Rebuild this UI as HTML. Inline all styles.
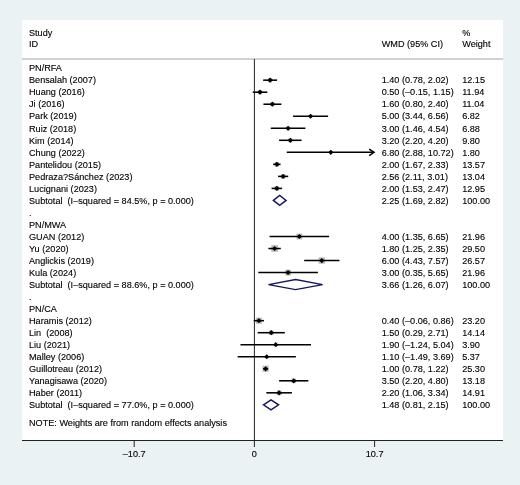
<!DOCTYPE html>
<html><head><meta charset="utf-8"><style>
html,body{margin:0;padding:0;background:#eaf2f3;}
body{width:520px;height:485px;overflow:hidden;}
svg{display:block;will-change:transform;filter:blur(0.3px);}
text{font-family:"Liberation Sans",sans-serif;font-size:9.15px;fill:#000;white-space:pre;stroke:#000;stroke-width:0.12px;}
</style></head><body>
<svg width="520" height="485" viewBox="0 0 520 485">
<rect x="0" y="0" width="520" height="485" fill="#eaf2f3"/>
<rect x="22" y="20" width="481" height="420.5" fill="#fff"/>
<line x1="22" y1="59" x2="503" y2="59" stroke="#c2c2c2" stroke-width="1.4"/>

<text x="29.0" y="36">Study</text>
<text x="29.0" y="47.1">ID</text>
<text x="381.7" y="47.3">WMD (95% CI)</text>
<text x="462.2" y="35.5">%</text>
<text x="462.2" y="47.4">Weight</text>
<line x1="254.4" y1="59" x2="254.4" y2="440" stroke="#222" stroke-width="1"/>
<text x="29.0" y="71.3">PN/RFA</text>
<text x="29.0" y="83.4">Bensalah (2007)</text>
<rect x="267.95" y="78.00" width="4.36" height="4.36" fill="#bdbdbd"/>
<line x1="263.16" y1="80.17" x2="277.09" y2="80.17" stroke="#000" stroke-width="1.55"/>
<polygon points="267.53,80.17 270.13,77.58 272.73,80.17 270.13,82.77" fill="#000"/>
<text x="381.7" y="83.4">1.40 (0.78, 2.02)</text>
<text x="462.2" y="83.4">12.15</text>
<text x="29.0" y="95.4">Huang (2016)</text>
<rect x="257.86" y="90.04" width="4.32" height="4.32" fill="#bdbdbd"/>
<line x1="252.71" y1="92.20" x2="267.32" y2="92.20" stroke="#000" stroke-width="1.55"/>
<polygon points="257.42,92.20 260.02,89.60 262.62,92.20 260.02,94.80" fill="#000"/>
<text x="381.7" y="95.4">0.50 (–0.15, 1.15)</text>
<text x="462.2" y="95.4">11.94</text>
<text x="29.0" y="107.4">Ji (2016)</text>
<rect x="270.30" y="102.15" width="4.15" height="4.15" fill="#bdbdbd"/>
<line x1="263.39" y1="104.22" x2="281.36" y2="104.22" stroke="#000" stroke-width="1.55"/>
<polygon points="269.77,104.22 272.37,101.62 274.97,104.22 272.37,106.82" fill="#000"/>
<text x="381.7" y="107.4">1.60 (0.80, 2.40)</text>
<text x="462.2" y="107.4">11.04</text>
<text x="29.0" y="119.4">Park (2019)</text>
<rect x="308.94" y="114.62" width="3.26" height="3.26" fill="#bdbdbd"/>
<line x1="293.04" y1="116.25" x2="328.09" y2="116.25" stroke="#000" stroke-width="1.55"/>
<polygon points="307.97,116.25 310.57,113.65 313.17,116.25 310.57,118.85" fill="#000"/>
<text x="381.7" y="119.4">5.00 (3.44, 6.56)</text>
<text x="462.2" y="119.4">6.82</text>
<text x="29.0" y="131.5">Ruiz (2018)</text>
<rect x="286.46" y="126.64" width="3.28" height="3.28" fill="#bdbdbd"/>
<line x1="270.80" y1="128.28" x2="305.40" y2="128.28" stroke="#000" stroke-width="1.55"/>
<polygon points="285.50,128.28 288.10,125.68 290.70,128.28 288.10,130.88" fill="#000"/>
<text x="381.7" y="131.5">3.00 (1.46, 4.54)</text>
<text x="462.2" y="131.5">6.88</text>
<text x="29.0" y="143.5">Kim (2014)</text>
<rect x="288.39" y="138.34" width="3.91" height="3.91" fill="#bdbdbd"/>
<line x1="279.11" y1="140.30" x2="301.58" y2="140.30" stroke="#000" stroke-width="1.55"/>
<polygon points="287.75,140.30 290.35,137.70 292.95,140.30 290.35,142.90" fill="#000"/>
<text x="381.7" y="143.5">3.20 (2.20, 4.20)</text>
<text x="462.2" y="143.5">9.80</text>
<text x="29.0" y="155.5">Chung (2022)</text>
<rect x="329.95" y="151.49" width="1.68" height="1.68" fill="#bdbdbd"/>
<line x1="286.75" y1="152.32" x2="374.00" y2="152.32" stroke="#000" stroke-width="1.55"/>
<polyline points="369.20,149.12 374.00,152.32 369.20,155.52" fill="none" stroke="#000" stroke-width="1.55"/>
<polygon points="328.19,152.32 330.79,149.72 333.39,152.32 330.79,154.92" fill="#000"/>
<text x="381.7" y="155.5">6.80 (2.88, 10.72)</text>
<text x="462.2" y="155.5">1.80</text>
<text x="29.0" y="167.6">Pantelidou (2015)</text>
<rect x="274.56" y="162.05" width="4.60" height="4.60" fill="#bdbdbd"/>
<line x1="273.16" y1="164.35" x2="280.57" y2="164.35" stroke="#000" stroke-width="1.55"/>
<polygon points="274.27,164.35 276.87,161.75 279.47,164.35 276.87,166.95" fill="#000"/>
<text x="381.7" y="167.6">2.00 (1.67, 2.33)</text>
<text x="462.2" y="167.6">13.57</text>
<text x="29.0" y="179.6">Pedraza?Sánchez (2023)</text>
<rect x="280.90" y="174.12" width="4.51" height="4.51" fill="#bdbdbd"/>
<line x1="278.10" y1="176.38" x2="288.21" y2="176.38" stroke="#000" stroke-width="1.55"/>
<polygon points="280.56,176.38 283.16,173.78 285.76,176.38 283.16,178.97" fill="#000"/>
<text x="381.7" y="179.6">2.56 (2.11, 3.01)</text>
<text x="462.2" y="179.6">13.04</text>
<text x="29.0" y="191.6">Lucignani (2023)</text>
<rect x="274.62" y="186.15" width="4.50" height="4.50" fill="#bdbdbd"/>
<line x1="271.59" y1="188.40" x2="282.15" y2="188.40" stroke="#000" stroke-width="1.55"/>
<polygon points="274.27,188.40 276.87,185.80 279.47,188.40 276.87,191.00" fill="#000"/>
<text x="381.7" y="191.6">2.00 (1.53, 2.47)</text>
<text x="462.2" y="191.6">12.95</text>
<text x="29.0" y="203.6">Subtotal  (I–squared = 84.5%, p = 0.000)</text>
<polygon points="273.38,200.43 279.68,195.43 286.08,200.43 279.68,205.43" fill="none" stroke="#161660" stroke-width="1.45"/>
<text x="381.7" y="203.6">2.25 (1.69, 2.82)</text>
<text x="462.2" y="203.6">100.00</text>
<text x="29.0" y="215.7">.</text>
<text x="29.0" y="227.7">PN/MWA</text>
<text x="29.0" y="239.7">GUAN (2012)</text>
<rect x="296.41" y="233.57" width="5.86" height="5.86" fill="#bdbdbd"/>
<line x1="269.57" y1="236.50" x2="329.10" y2="236.50" stroke="#000" stroke-width="1.55"/>
<polygon points="296.73,236.50 299.33,233.90 301.93,236.50 299.33,239.10" fill="#000"/>
<text x="381.7" y="239.7">4.00 (1.35, 6.65)</text>
<text x="462.2" y="239.7">21.96</text>
<text x="29.0" y="251.7">Yu (2020)</text>
<rect x="271.23" y="245.13" width="6.79" height="6.79" fill="#bdbdbd"/>
<line x1="268.44" y1="248.53" x2="280.80" y2="248.53" stroke="#000" stroke-width="1.55"/>
<polygon points="272.02,248.53 274.62,245.93 277.22,248.53 274.62,251.12" fill="#000"/>
<text x="381.7" y="251.7">1.80 (1.25, 2.35)</text>
<text x="462.2" y="251.7">29.50</text>
<text x="29.0" y="263.8">Anglickis (2019)</text>
<rect x="318.58" y="257.33" width="6.44" height="6.44" fill="#bdbdbd"/>
<line x1="304.17" y1="260.55" x2="339.44" y2="260.55" stroke="#000" stroke-width="1.55"/>
<polygon points="319.20,260.55 321.80,257.95 324.40,260.55 321.80,263.15" fill="#000"/>
<text x="381.7" y="263.8">6.00 (4.43, 7.57)</text>
<text x="462.2" y="263.8">26.57</text>
<text x="29.0" y="275.8">Kula (2024)</text>
<rect x="285.17" y="269.65" width="5.86" height="5.86" fill="#bdbdbd"/>
<line x1="258.33" y1="272.57" x2="317.87" y2="272.57" stroke="#000" stroke-width="1.55"/>
<polygon points="285.50,272.57 288.10,269.97 290.70,272.57 288.10,275.18" fill="#000"/>
<text x="381.7" y="275.8">3.00 (0.35, 5.65)</text>
<text x="462.2" y="275.8">21.96</text>
<text x="29.0" y="287.8">Subtotal  (I–squared = 88.6%, p = 0.000)</text>
<polygon points="268.55,284.60 295.52,279.60 322.59,284.60 295.52,289.60" fill="none" stroke="#161660" stroke-width="1.45"/>
<text x="381.7" y="287.8">3.66 (1.26, 6.07)</text>
<text x="462.2" y="287.8">100.00</text>
<text x="29.0" y="299.8">.</text>
<text x="29.0" y="311.9">PN/CA</text>
<text x="29.0" y="323.9">Haramis (2012)</text>
<rect x="255.88" y="317.66" width="6.02" height="6.02" fill="#bdbdbd"/>
<line x1="253.73" y1="320.68" x2="264.06" y2="320.68" stroke="#000" stroke-width="1.55"/>
<polygon points="256.29,320.68 258.89,318.07 261.49,320.68 258.89,323.28" fill="#000"/>
<text x="381.7" y="323.9">0.40 (–0.06, 0.86)</text>
<text x="462.2" y="323.9">23.20</text>
<text x="29.0" y="335.9">Lin  (2008)</text>
<rect x="268.90" y="330.35" width="4.70" height="4.70" fill="#bdbdbd"/>
<line x1="257.66" y1="332.70" x2="284.84" y2="332.70" stroke="#000" stroke-width="1.55"/>
<polygon points="268.65,332.70 271.25,330.10 273.85,332.70 271.25,335.30" fill="#000"/>
<text x="381.7" y="335.9">1.50 (0.29, 2.71)</text>
<text x="462.2" y="335.9">14.14</text>
<text x="29.0" y="347.9">Liu (2021)</text>
<rect x="274.51" y="343.49" width="2.47" height="2.47" fill="#bdbdbd"/>
<line x1="240.47" y1="344.72" x2="311.02" y2="344.72" stroke="#000" stroke-width="1.55"/>
<polygon points="273.14,344.72 275.74,342.12 278.34,344.72 275.74,347.32" fill="#000"/>
<text x="381.7" y="347.9">1.90 (–1.24, 5.04)</text>
<text x="462.2" y="347.9">3.90</text>
<text x="29.0" y="360.0">Malley (2006)</text>
<rect x="265.31" y="355.30" width="2.90" height="2.90" fill="#bdbdbd"/>
<line x1="237.66" y1="356.75" x2="295.85" y2="356.75" stroke="#000" stroke-width="1.55"/>
<polygon points="264.16,356.75 266.76,354.15 269.36,356.75 266.76,359.35" fill="#000"/>
<text x="381.7" y="360.0">1.10 (–1.49, 3.69)</text>
<text x="462.2" y="360.0">5.37</text>
<text x="29.0" y="372.0">Guillotreau (2012)</text>
<rect x="262.49" y="365.63" width="6.29" height="6.29" fill="#bdbdbd"/>
<line x1="263.16" y1="368.78" x2="268.11" y2="368.78" stroke="#000" stroke-width="1.55"/>
<polygon points="263.03,368.78 265.63,366.18 268.23,368.78 265.63,371.38" fill="#000"/>
<text x="381.7" y="372.0">1.00 (0.78, 1.22)</text>
<text x="462.2" y="372.0">25.30</text>
<text x="29.0" y="384.0">Yanagisawa (2020)</text>
<rect x="291.45" y="378.53" width="4.54" height="4.54" fill="#bdbdbd"/>
<line x1="279.11" y1="380.80" x2="308.32" y2="380.80" stroke="#000" stroke-width="1.55"/>
<polygon points="291.12,380.80 293.72,378.20 296.32,380.80 293.72,383.40" fill="#000"/>
<text x="381.7" y="384.0">3.50 (2.20, 4.80)</text>
<text x="462.2" y="384.0">13.18</text>
<text x="29.0" y="396.0">Haber (2011)</text>
<rect x="276.70" y="390.41" width="4.83" height="4.83" fill="#bdbdbd"/>
<line x1="266.31" y1="392.82" x2="291.92" y2="392.82" stroke="#000" stroke-width="1.55"/>
<polygon points="276.51,392.82 279.11,390.22 281.71,392.82 279.11,395.43" fill="#000"/>
<text x="381.7" y="396.0">2.20 (1.06, 3.34)</text>
<text x="462.2" y="396.0">14.91</text>
<text x="29.0" y="408.0">Subtotal  (I–squared = 77.0%, p = 0.000)</text>
<polygon points="263.50,404.85 271.03,399.85 278.55,404.85 271.03,409.85" fill="none" stroke="#161660" stroke-width="1.45"/>
<text x="381.7" y="408.0">1.48 (0.81, 2.15)</text>
<text x="462.2" y="408.0">100.00</text>
<text x="29.0" y="425.9">NOTE: Weights are from random effects analysis</text>
<line x1="22" y1="440.5" x2="503" y2="440.5" stroke="#222" stroke-width="1.2"/>
<line x1="134.20" y1="440.5" x2="134.20" y2="447" stroke="#222" stroke-width="1"/>
<text x="134.20" y="456.5" text-anchor="middle">–10.7</text>
<line x1="254.40" y1="440.5" x2="254.40" y2="447" stroke="#222" stroke-width="1"/>
<text x="254.40" y="456.5" text-anchor="middle">0</text>
<line x1="374.60" y1="440.5" x2="374.60" y2="447" stroke="#222" stroke-width="1"/>
<text x="374.60" y="456.5" text-anchor="middle">10.7</text>
</svg></body></html>
